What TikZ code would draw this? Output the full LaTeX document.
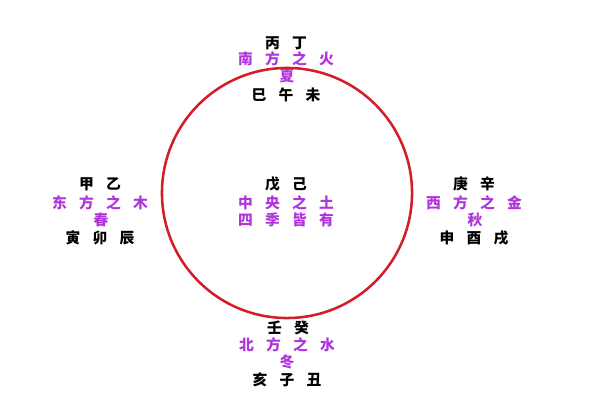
\documentclass[tikz,border=0pt]{standalone}
\usepackage{fontspec}
\usepackage{xcolor}
\newfontfamily\cjk{Noto Sans CJK SC}
\definecolor{ringred}{RGB}{210,30,40}
\definecolor{dirpurple}{RGB}{176,52,220}
\newcommand{\gap}{\hspace{8.7pt}}

\begin{document}
\begin{tikzpicture}[x=0.025cm,y=-0.025cm,
		blk/.style={inner sep=0pt,font=\cjk\bfseries\fontsize{10.5}{12}\selectfont,text=black},
		pur/.style={blk,text=dirpurple},
		ring/.style={draw=ringred,line width=1.8pt}]
		\useasboundingbox (0,0) rectangle (600,400);
		\draw[ring] (287,193) circle (3.125cm);
		% south (top)
		\node[blk] (tgan) at (286,43) {丙\gap 丁};
		\node[pur] (tdir) at (286,59) {南\gap 方\gap 之\gap 火};
		\node[pur] (tsea) at (287,76) {夏};
		\node[blk] (tzhi) at (286,95) {巳\gap 午\gap 未};
		% east (left)
		\node[blk] (lgan) at (100,184) {甲\gap 乙};
		\node[pur] (ldir) at (100,203) {东\gap 方\gap 之\gap 木};
		\node[pur] (lsea) at (101,220) {春};
		\node[blk] (lzhi) at (100,238) {寅\gap 卯\gap 辰};
		% centre
		\node[blk] (cgan) at (286,184) {戊\gap 己};
		\node[pur] (cdir) at (286,203) {中\gap 央\gap 之\gap 土};
		\node[pur] (csea) at (286,220) {四\gap 季\gap 皆\gap 有};
		% west (right)
		\node[blk] (rgan) at (474,184) {庚\gap 辛};
		\node[pur] (rdir) at (474,203) {西\gap 方\gap 之\gap 金};
		\node[pur] (rsea) at (475,220) {秋};
		\node[blk] (rzhi) at (474,238) {申\gap 酉\gap 戌};
		% north (bottom)
		\node[blk] (bgan) at (288,328) {壬\gap 癸};
		\node[pur] (bdir) at (287,345) {北\gap 方\gap 之\gap 水};
		\node[pur] (bsea) at (287,362) {冬};
		\node[blk] (bzhi) at (287,380) {亥\gap 子\gap 丑};
	\end{tikzpicture}
\end{document}
